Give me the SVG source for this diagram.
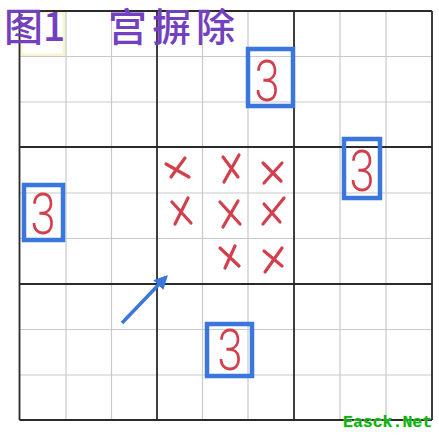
<svg xmlns="http://www.w3.org/2000/svg" width="439" height="435" viewBox="0 0 439 435">
<defs>
<style>
.thin{stroke:#c9c9c9;stroke-width:1.2;fill:none}
.thick{stroke:#2a2a2a;stroke-width:1.8;fill:none}
.box{fill:none;stroke:#3a76dc;stroke-width:4.5}
.three{font-family:"Roboto","Liberation Sans",sans-serif;font-weight:300;font-size:58px;fill:#d2404e;text-anchor:middle}
.x{stroke:#d2404e;stroke-width:3.2;stroke-linecap:round;fill:none}
.title{font-family:"Noto Sans CJK SC","Noto Sans",sans-serif;font-weight:500;font-size:39px;fill:#7340c0}
</style>
<marker id="ah" viewBox="0 0 10 10" refX="8" refY="5" markerWidth="4" markerHeight="4" orient="auto">
<path d="M0,0 L10,5 L0,10 z" fill="#3a76dc"/>
</marker>
</defs>
<rect width="439" height="435" fill="#ffffff"/>
<rect x="21" y="12" width="43" height="43" fill="none" stroke="#f6f5cf" stroke-width="3"/>
<g id="grid">
<path class="thin" d="M66,11V420M111.5,11V420M202.5,11V420M248,11V420M340,11V420M386,11V420M19.5,56.5H432M19.5,102H432M19.5,193H432M19.5,238.5H432M19.5,329.5H432M19.5,375H432"/>
<path class="thick" d="M19.5,11V420M157,11V420M294,11V420M432,11V420M19.5,11H432M19.5,147H432M19.5,284H432M19.5,420H432"/>
</g>
<g id="title">
<text class="title" x="4" y="41">图1</text>
<text class="title" x="108" y="41" letter-spacing="5">宫摒除</text>
</g>
<g id="box-top">
<rect class="box" x="248" y="49" width="45" height="57"/>
<text class="three" transform="translate(267,101) scale(0.78,1)">3</text>
</g>
<g id="box-right">
<rect class="box" x="344" y="139" width="36" height="59"/>
<text class="three" transform="translate(362,191) scale(0.78,1)">3</text>
</g>
<g id="box-left">
<rect class="box" x="24" y="185" width="39" height="55"/>
<text class="three" transform="translate(43,234) scale(0.78,1)">3</text>
</g>
<g id="box-bottom">
<rect class="box" x="207" y="324" width="45" height="52"/>
<text class="three" transform="translate(230,370) scale(0.78,1)">3</text>
</g>
<g id="crosses">
<path class="x" d="M166,164 L189,177 M185,158 L171,177"/>
<path class="x" d="M223,157 L238,177 M239,155 L224,182"/>
<path class="x" d="M263,163 L281,181 M282,163 L264,183"/>
<path class="x" d="M172,202 L191,223 M188,198 L175,224"/>
<path class="x" d="M220,202 L240,224 M238,201 L223,227"/>
<path class="x" d="M264,204 L280,222 M284,198 L263,224"/>
<path class="x" d="M220,248 L239,266 M235,246 L225,268"/>
<path class="x" d="M264,251 L282,266 M282,248 L265,272"/>
</g>
<g id="connectors">
<line x1="122" y1="323" x2="166" y2="277" stroke="#3a76dc" stroke-width="3.5" marker-end="url(#ah)"/>
</g>
<g id="watermark">
<text x="343" y="427" font-family="Liberation Mono,monospace" font-weight="bold" font-size="16.5" fill="#11b011" stroke="#9af09a" stroke-width="0.6" paint-order="stroke">Easck.Net</text>
</g>
</svg>
